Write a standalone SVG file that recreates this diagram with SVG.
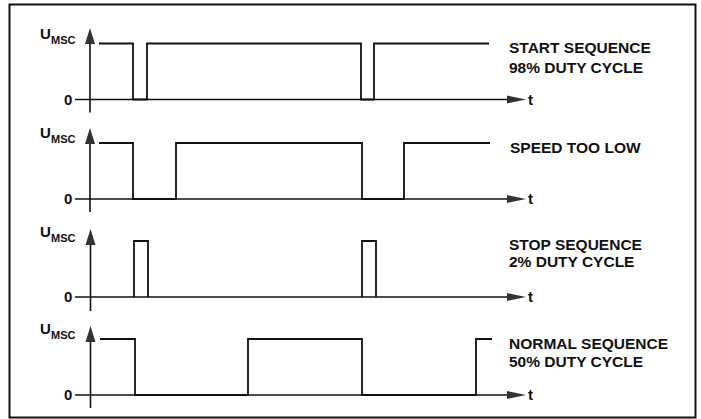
<svg xmlns="http://www.w3.org/2000/svg" width="701" height="419" viewBox="0 0 701 419">
<defs>
<style>
.t{font-family:"Liberation Sans",Arial,sans-serif;font-weight:bold;fill:#111;}
.lbl{font-size:15.5px;}
.ax{font-size:15px;}
.sub{font-size:11px;}
.w{fill:none;stroke:#111;stroke-width:1.8;stroke-linejoin:miter;}
.a{fill:none;stroke:#111;stroke-width:1.6;}
.ah{fill:#333;}
</style>
</defs>
<rect x="0" y="0" width="701" height="419" fill="#fff"/>
<rect id="frame" x="9.5" y="4.5" width="686" height="413" fill="none" stroke="#111" stroke-width="2"/>

<g id="start-sequence">
<line class="a" x1="90" y1="112.5" x2="90" y2="40"/>
<polygon class="ah" points="90,28 85,44 95,44"/>
<line class="a" x1="75" y1="99.5" x2="510" y2="99.5"/>
<polygon class="ah" points="526,99.5 507,95.5 507,103.5"/>
<text class="t ax" x="40" y="38.5">U</text><text class="t sub" x="51" y="43.5">MSC</text>
<text class="t ax" x="64" y="104.5">0</text>
<text class="t ax" x="528" y="104.5">t</text>
<path class="w" d="M99,43.5 H133 V99.5 H147 V43.5 H361 V99.5 H374 V43.5 H489"/>
<text class="t lbl" x="509" y="53">START SEQUENCE</text>
<text class="t lbl" x="509" y="73">98% DUTY CYCLE</text>
</g>

<g id="speed-too-low">
<line class="a" x1="90" y1="212" x2="90" y2="140"/>
<polygon class="ah" points="90,128 85,144 95,144"/>
<line class="a" x1="75" y1="199" x2="510" y2="199"/>
<polygon class="ah" points="526,199 507,195 507,203"/>
<text class="t ax" x="40" y="138">U</text><text class="t sub" x="51" y="143">MSC</text>
<text class="t ax" x="64" y="204">0</text>
<text class="t ax" x="528" y="204">t</text>
<path class="w" d="M99,143 H133 V199 H176 V143 H362 V199 H404 V143 H490"/>
<text class="t lbl" x="510" y="153">SPEED TOO LOW</text>
</g>

<g id="stop-sequence">
<line class="a" x1="90.5" y1="311" x2="90.5" y2="240"/>
<polygon class="ah" points="90.5,229 85.5,245 95.5,245"/>
<line class="a" x1="75" y1="297" x2="510" y2="297"/>
<polygon class="ah" points="526,297 507,293 507,301"/>
<text class="t ax" x="40" y="237">U</text><text class="t sub" x="51" y="242">MSC</text>
<text class="t ax" x="64" y="302">0</text>
<text class="t ax" x="528" y="302">t</text>
<path class="w" d="M134,297 V241 H148 V297 M362,297 V241 H376 V297"/>
<text class="t lbl" x="509" y="250">STOP SEQUENCE</text>
<text class="t lbl" x="509" y="267">2% DUTY CYCLE</text>
</g>

<g id="normal-sequence">
<line class="a" x1="90.5" y1="408" x2="90.5" y2="338"/>
<polygon class="ah" points="90.5,326 85.5,342 95.5,342"/>
<line class="a" x1="75" y1="395" x2="510" y2="395"/>
<polygon class="ah" points="526,395 507,391 507,399"/>
<text class="t ax" x="40" y="334">U</text><text class="t sub" x="51" y="339">MSC</text>
<text class="t ax" x="64" y="400">0</text>
<text class="t ax" x="528" y="400">t</text>
<path class="w" d="M100,339 H135 V395 H248 V339 H362 V395 H476 V339 H492"/>
<text class="t lbl" x="509" y="349">NORMAL SEQUENCE</text>
<text class="t lbl" x="509" y="367">50% DUTY CYCLE</text>
</g>
</svg>
